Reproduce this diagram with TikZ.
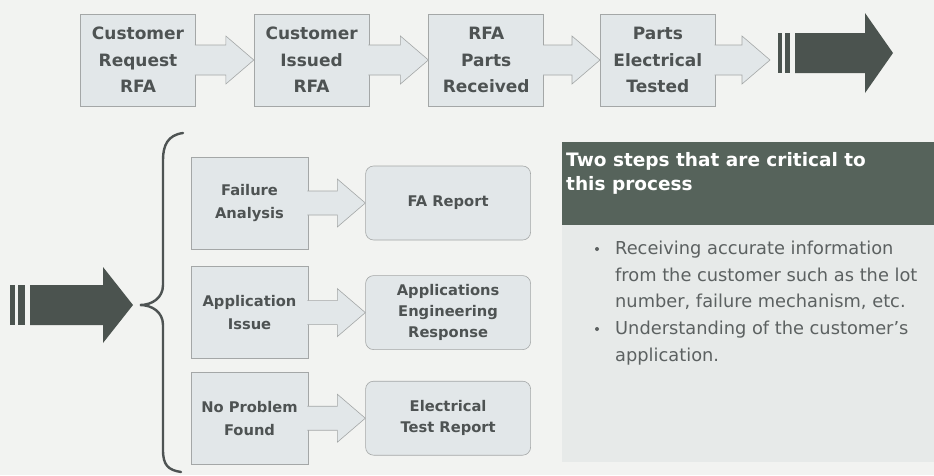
\documentclass[tikz,border=0pt]{standalone}
\usepackage{fontspec}
\setmainfont{DejaVu Sans}
\usetikzlibrary{positioning, calc}

\definecolor{pagebg}{HTML}{F2F3F1}
\definecolor{boxfill}{HTML}{E2E7E9}
\definecolor{boxline}{HTML}{A4A7A7}
\definecolor{boxtext}{HTML}{4E5353}
\definecolor{darkarrow}{HTML}{4B534F}
\definecolor{hdrfill}{HTML}{56635B}
\definecolor{panelfill}{HTML}{E7EAE9}
\definecolor{bodytext}{HTML}{5C6161}

% hollow block arrow between two anchors: from, to, shaft half, head half, head length
\newcommand{\hollowarrow}[5]{%
  \path[flowarrow] let \p1=(#1), \p2=(#2) in
    (\x1-1pt,\y1+#3) -- (\x2-#5,\y1+#3) -- (\x2-#5,\y1+#4) -- (\x2,\y1)
    -- (\x2-#5,\y1-#4) -- (\x2-#5,\y1-#3) -- (\x1-1pt,\y1-#3);
}

\begin{document}
\begin{tikzpicture}[x=1pt, y=-1pt, node distance=58pt]
            % Define node styles
            \tikzstyle{stage} = [rectangle, draw=boxline, line width=0.6pt, fill=boxfill, minimum width=115pt, minimum height=92pt, align=center, text=boxtext, font=\bfseries\fontsize{17}{26.5}\selectfont]
            \tikzstyle{cause} = [rectangle, draw=boxline, line width=0.6pt, fill=boxfill, minimum width=117pt, minimum height=92pt, align=center, text=boxtext, font=\bfseries\fontsize{14.7}{23}\selectfont]
            \tikzstyle{outcome} = [rectangle, rounded corners=8pt, draw=boxline, line width=0.6pt, fill=boxfill, minimum width=165pt, minimum height=74pt, align=center, text=boxtext, font=\bfseries\fontsize{14.7}{21}\selectfont]
            \tikzstyle{flowarrow} = [fill=boxfill, draw=boxline, line width=0.6pt]
            \tikzstyle{bodytxt} = [anchor=north west, inner sep=0pt, align=left, text=bodytext, font=\fontsize{17.8}{26.5}\selectfont]
            \tikzstyle{dot} = [circle, fill=bodytext, inner sep=0pt, minimum size=4pt]

            % Page background
            \fill[pagebg] (0,0) rectangle (934,475);
            \useasboundingbox (0,0) rectangle (934,475);

            % Top row of process steps
            \node[stage] (req) at (138,60) {Customer\\Request\\RFA};
            \node[stage] (iss) [right=58pt of req] {Customer\\Issued\\RFA};
            \node[stage] (rcv) [right=59pt of iss] {RFA\\Parts\\Received};
            \node[stage] (tst) [right=56pt of rcv] {Parts\\Electrical\\Tested};
            \coordinate (tstout) at (770,60);

            \hollowarrow{req.east}{iss.west}{15pt}{24pt}{28pt}
            \hollowarrow{iss.east}{rcv.west}{15pt}{24pt}{28pt}
            \hollowarrow{rcv.east}{tst.west}{15pt}{24pt}{28pt}
            \hollowarrow{tst.east}{tstout}{15pt}{24pt}{28pt}

            % Dark arrow leaving the top row
            \fill[darkarrow] (778,33) rectangle (782,73);
            \fill[darkarrow] (785,33) rectangle (790,73);
            \fill[darkarrow] (795,33) -- (865,33) -- (865,13) -- (893,53) -- (865,93) -- (865,73) -- (795,73) -- cycle;

            % Dark arrow into the brace
            \fill[darkarrow] (10,285) rectangle (15,325);
            \fill[darkarrow] (18,285) rectangle (25,325);
            \fill[darkarrow] (30,285) -- (103,285) -- (103,267) -- (133,305) -- (103,343) -- (103,325) -- (30,325) -- cycle;

            % Brace
            \draw[boxtext, line width=2.4pt, line cap=round] (183,133) .. controls (168,135) and (163,145) .. (163,160) -- (163,285)
                .. controls (163,298) and (152,305) .. (140,305) .. controls (152,305) and (163,312) .. (163,325) -- (163,450)
                .. controls (163,465) and (168,470) .. (181,472);

            % Possible causes (left) and their reports (right)
            \node[cause] (fa) at (249.5,203) {Failure\\Analysis};
            \node[cause] (app) [below=17pt of fa] {Application\\Issue};
            \node[cause] (npf) [below=13pt of app] {No Problem\\Found};

            \node[outcome] (farep) [right=57pt of fa] {FA Report};
            \node[outcome] (aer) [right=57pt of app] {Applications\\Engineering\\Response};
            \node[outcome] (etr) [right=57pt of npf] {Electrical\\Test Report};

            \hollowarrow{fa.east}{farep.west}{12pt}{24pt}{28pt}
            \hollowarrow{app.east}{aer.west}{12pt}{24pt}{28pt}
            \hollowarrow{npf.east}{etr.west}{12pt}{24pt}{28pt}

            % Callout with the two critical steps
            \fill[panelfill] (562,225) rectangle (934,462);
            \node[rectangle, fill=hdrfill, minimum width=372pt, minimum height=83pt, inner sep=0pt, anchor=north west] (hdr) at (562,142) {};
            \node[anchor=north west, inner sep=0pt, align=left, text=white, font=\bfseries\fontsize{18.5}{24}\selectfont] (hdrtxt) at (566,152) {Two steps that are critical to\\this process};

            \node[bodytxt] (pt1) at (615,241) {Receiving accurate information\\from the customer such as the lot\\number, failure mechanism, etc.};
            \node[bodytxt] (pt2) at (615,321) {Understanding of the customer’s\\application.};
            \node[dot] (dot1) at (597,249) {};
            \node[dot] (dot2) at (597,329) {};
        \end{tikzpicture}
\end{document}
